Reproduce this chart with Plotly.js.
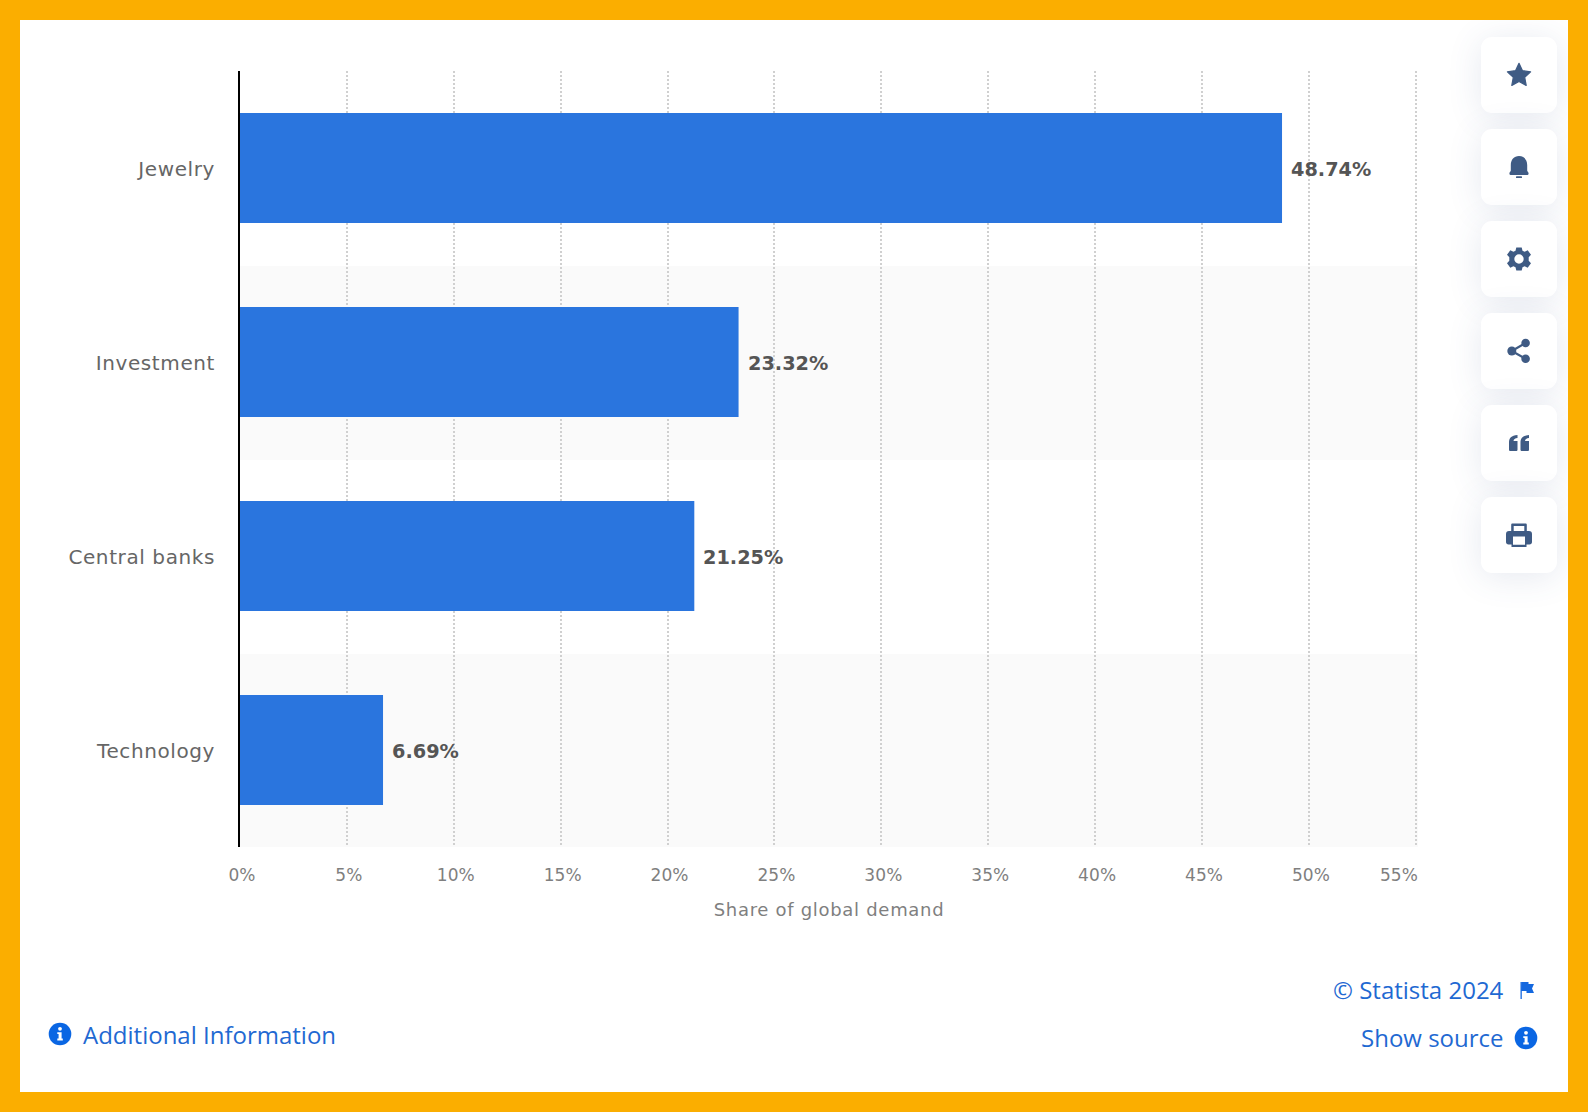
<!DOCTYPE html>
<html><head><meta charset="utf-8">
<script src="https://cdn.plot.ly/plotly-3.0.1.min.js"></script>
<style>
html,body{margin:0;padding:0;width:1588px;height:1112px;overflow:hidden;background:#fbae00}
#panel{position:absolute;left:20px;top:20px;width:1548px;height:1072px;background:#fff;overflow:hidden}
#chart{position:absolute;left:0;top:0;width:1588px;height:1112px}
.card{position:absolute;left:1461px;width:76px;height:76px;background:#fff;border-radius:11px;box-shadow:0 4px 34px rgba(60,85,140,.13)}
.card svg{position:absolute;left:20px;top:20px;width:36px;height:36px;fill:#3f5b84}
.ic{position:absolute}
.ytick text{letter-spacing:.6px}
.xtick text{letter-spacing:.1px}
.xtitle{letter-spacing:.7px}
</style></head><body>
<div id="panel">
<div class="card" style="top:17px"><svg viewBox="0 0 36 36"><path d="M18 6.300l3.500 7.400 8.100 1.100-5.900 5.600 1.500 8-7.200-3.900-7.200 3.900 1.500-8-5.900-5.600 8.100-1.100z" stroke="#3f5b84" stroke-width="1.200" stroke-linejoin="round"/></svg></div>
<div class="card" style="top:109px"><svg viewBox="0 0 36 36"><path d="M18 7c5 0 8.200 3.800 8.200 9v5.500c0 1 1.400 1.500 1.400 3 0 1-.8 1.500-1.800 1.500H10.200c-1 0-1.800-.5-1.800-1.500 0-1.500 1.400-2 1.400-3V16C9.800 10.800 13 7 18 7z"/><rect x="15" y="27.300" width="6" height="1.700" rx=".6"/></svg></div>
<div class="card" style="top:201px"><svg viewBox="0 0 36 36"><path fill-rule="evenodd" d="M15.300 6.500h5.400l.8 3.300 2.100 1 3.100-1.500 3.300 4.400-2.300 2.500v3.600l2.300 2.500-3.300 4.400-3.100-1.500-2.100 1-.8 3.300h-5.400l-.8-3.300-2.100-1-3.100 1.500-3.300-4.400 2.300-2.500v-3.600l-2.300-2.500 3.300-4.400 3.100 1.500 2.100-1zM18 13.300a4.700 4.700 0 100 9.400 4.700 4.700 0 000-9.400z"/></svg></div>
<div class="card" style="top:293px"><svg viewBox="0 0 36 36"><circle cx="10.800" cy="18" r="4.500"/><circle cx="24.600" cy="10" r="4.300"/><circle cx="24.600" cy="25.800" r="4.300"/><path d="M10.800 18L24.600 10M10.800 18L24.600 25.800" stroke="#3f5b84" stroke-width="2.200" fill="none"/></svg></div>
<div class="card" style="top:385px"><svg viewBox="0 0 36 36"><path d="M8 17.500c0-4.500 2.200-7 8.500-7.500v3c-2.500.3-3.800 1.300-4 3h4v8.500c0 1-.5 1.500-1.500 1.500H9.500c-1 0-1.500-.5-1.500-1.500zM19.500 17.500c0-4.500 2.200-7 8.500-7.500v3c-2.500.3-3.800 1.300-4 3h4v8.500c0 1-.5 1.500-1.500 1.500H21c-1 0-1.500-.5-1.500-1.500z"/></svg></div>
<div class="card" style="top:477px"><svg viewBox="0 0 36 36"><path fill-rule="evenodd" d="M11.500 6.500h13c.8 0 1.300.5 1.300 1.300V14H28c2 0 3 1.300 3 3v8c0 1.600-1 2.500-2.500 2.500h-3V30H10.500v-2.500h-3C6 27.500 5 26.600 5 25v-8c0-1.700 1-3 3-3h2.200V7.800c0-.8.500-1.300 1.300-1.300zM12.700 8.900V14h10.600V8.900zM12 19.500v8.300h12v-8.300z"/></svg></div>
<svg class="ic" style="left:1488px;top:958px" width="36" height="24" viewBox="0 0 36 24" fill="#1468df"><rect x="12.500" y="4" width="1.300" height="17"/><path d="M13.500 4h7v2h5.500l-2 4.500 2 4.500h-7.500v-2h-5.500z"/></svg>
<svg class="ic" style="left:1494px;top:1006px" width="24" height="24" viewBox="0 0 24 24"><circle cx="12" cy="12" r="11.300" fill="#0a66e3"/><circle cx="12" cy="6.800" r="1.900" fill="#fff"/><path d="M9.300 10.200h4.300v6.300h1.200v1.900H9.300v-1.900h1.300V12H9.300z" fill="#fff"/></svg>
<svg class="ic" style="left:28px;top:1002px" width="24" height="24" viewBox="0 0 24 24"><circle cx="12" cy="12" r="11.300" fill="#0a66e3"/><circle cx="12" cy="6.800" r="1.900" fill="#fff"/><path d="M9.300 10.200h4.300v6.300h1.200v1.900H9.300v-1.900h1.300V12H9.300z" fill="#fff"/></svg>
</div>
<div id="chart"></div>
<script>
const categories = ["Jewelry", "Investment", "Central banks", "Technology"];
const shares = [48.74, 23.32, 21.25, 6.69];
const valueLabels = ["48.74%", "23.32%", "21.25%", "6.69%"];
const tickValues = [0, 5, 10, 15, 20, 25, 30, 35, 40, 45, 50, 55];
const tickLabels = ["0%", "5%", "10%", "15%", "20%", "25%", "30%", "35%", "40%", "45%", "50%", ""];
const lastTick = "55%";
const axisTitle = "Share of global demand";
const footLeft = "Additional Information";
const footRight1 = "\u00a9 Statista 2024";
const footRight2 = "Show source";

const L = 240, T = 71, PW = 1178, PH = 776;
const px = x => (x - L) / PW, py = y => 1 - (y - T) / PH;
const bodyFont = "'DejaVu Sans', sans-serif", linkFont = "'Open Sans', sans-serif";

const band = c => ({type: "rect", layer: "below", xref: "paper", x0: 0, x1: 1, yref: "y",
  y0: categories.indexOf(c) - 0.495, y1: categories.indexOf(c) + 0.505, fillcolor: "#fafafa", line: {width: 0}});

const valueAnn = categories.map((c, i) => ({x: shares[i], y: c, xref: "x", yref: "y", text: valueLabels[i],
  showarrow: false, xanchor: "left", xshift: 7, yshift: -1, font: {family: bodyFont, size: 19.3, color: "#555555", weight: 600}}));

const footAnn = (x, y, text, anchor) => ({x: px(x), y: py(y), xref: "paper", yref: "paper", text, showarrow: false,
  xanchor: anchor, yanchor: "middle", font: {family: linkFont, size: 24, color: "#1f69d2"}});

Plotly.newPlot("chart", [{
  type: "bar", orientation: "h", x: shares, y: categories, width: 0.567,
  marker: {color: "#2a75de", line: {width: 0}}, hoverinfo: "skip"
}], {
  width: 1588, height: 1112,
  margin: {l: L, r: 1588 - L - PW, t: T, b: 1112 - T - PH, pad: 0},
  paper_bgcolor: "rgba(0,0,0,0)", plot_bgcolor: "rgba(0,0,0,0)", showlegend: false,
  xaxis: {range: [0, 55.1], tickmode: "array", tickvals: tickValues, ticktext: tickLabels, side: "bottom",
    showgrid: true, gridcolor: "#d0d0d0", gridwidth: 2, griddash: "2px,2px", zeroline: false, showline: false,
    ticks: "", ticklabelstandoff: 16, tickangle: 0, tickfont: {family: bodyFont, size: 17, color: "#7f7f7f"},
    title: {text: axisTitle, standoff: 19, font: {family: bodyFont, size: 18, color: "#7f7f7f"}}},
  yaxis: {type: "category", categoryorder: "array", categoryarray: categories, autorange: false, range: [3.5, -0.5],
    showgrid: false, zeroline: false, showline: true, linecolor: "#000", linewidth: 2, ticks: "",
    ticklabelstandoff: 19, tickfont: {family: bodyFont, size: 20, color: "#666666"}},
  shapes: [band(categories[1]), band(categories[3])],
  annotations: [...valueAnn,
    {x: 55, y: 0, xref: "x", yref: "paper", yshift: -28, xshift: 4, text: lastTick, showarrow: false, xanchor: "right", yanchor: "middle",
     font: {family: bodyFont, size: 17, color: "#7f7f7f"}},
    footAnn(81, 1034, footLeft, "left"),
    footAnn(1505.5, 989, footRight1, "right"),
    footAnn(1505.5, 1037, footRight2, "right")]
}, {displayModeBar: false, staticPlot: true}).then(() => {
  document.querySelectorAll(".xtick text").forEach(t => t.setAttribute("x", parseFloat(t.getAttribute("x")) + 2));
  document.querySelectorAll(".ytick text").forEach(t => t.setAttribute("y", parseFloat(t.getAttribute("y")) + 1));
});
</script>
</body></html>
